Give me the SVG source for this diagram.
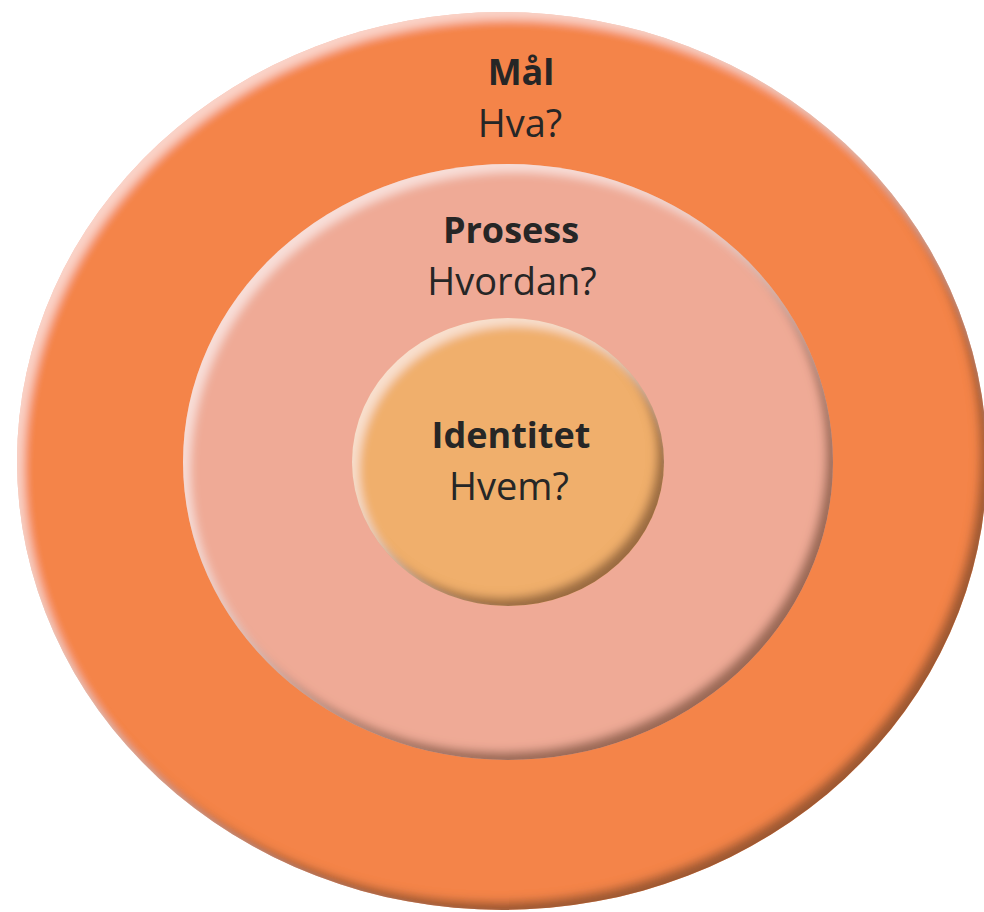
<svg xmlns="http://www.w3.org/2000/svg" width="984" height="912" viewBox="0 0 984 912">
<style>
text{font-family:"Open Sans","Liberation Sans",sans-serif;fill:#262626;text-anchor:middle}
.t{font-weight:bold;font-size:36px}
.s{font-size:38px}
</style>
<defs>
<filter id="bevel" x="-5%" y="-5%" width="110%" height="110%">
<feGaussianBlur in="SourceAlpha" stdDeviation="5" result="b"/>
<feOffset in="b" dx="-7" dy="-8" result="o1"/>
<feComposite in="SourceAlpha" in2="o1" operator="out" result="e1"/>
<feFlood flood-color="#6b4228" flood-opacity="0.75"/>
<feComposite in2="e1" operator="in" result="dark"/>
<feOffset in="b" dx="7" dy="8" result="o2"/>
<feComposite in="SourceAlpha" in2="o2" operator="out" result="e2"/>
<feFlood flood-color="#ffffff" flood-opacity="0.55"/>
<feComposite in2="e2" operator="in" result="light"/>
<feMerge><feMergeNode in="SourceGraphic"/><feMergeNode in="dark"/><feMergeNode in="light"/></feMerge>
</filter>
</defs>
<g id="outer">
<ellipse cx="502" cy="461" rx="485" ry="449" fill="#F4844A" filter="url(#bevel)"/>
<text class="t" x="521" y="85">Mål</text>
<text class="s" x="520" y="137">Hva?</text>
</g>
<g id="middle">
<ellipse cx="508" cy="462" rx="325" ry="298" fill="#EFAA96" filter="url(#bevel)"/>
<text class="t" x="511" y="243">Prosess</text>
<text class="s" x="512" y="295">Hvordan?</text>
</g>
<g id="inner">
<ellipse cx="508" cy="462" rx="156" ry="144" fill="#F0AF6C" filter="url(#bevel)"/>
<text class="t" x="511" y="448">Identitet</text>
<text class="s" x="509" y="500">Hvem?</text>
</g>
<g id="connectors"/>
</svg>
